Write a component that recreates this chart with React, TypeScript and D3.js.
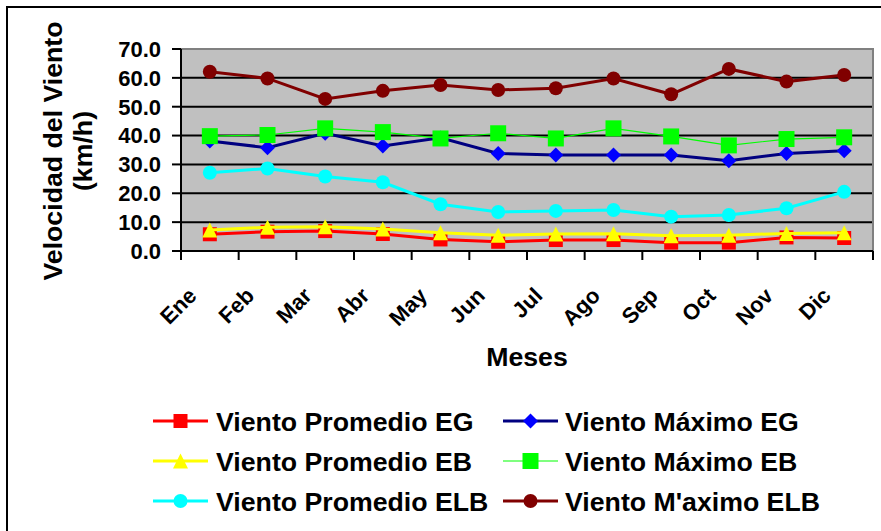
import React from "react";
import * as d3 from "d3";

const months = ["Ene", "Feb", "Mar", "Abr", "May", "Jun", "Jul", "Ago", "Sep", "Oct", "Nov", "Dic"];
const yTicks = [0, 10, 20, 30, 40, 50, 60, 70];

const promedioEG = [5.8, 6.7, 6.9, 5.9, 4.0, 3.2, 3.8, 3.8, 2.9, 2.9, 4.7, 4.5];
const maximoEG = [38.1, 35.8, 40.8, 36.4, 39.2, 33.8, 33.3, 33.3, 33.3, 31.3, 33.8, 34.7];
const promedioEB = [7.3, 8.2, 8.4, 7.6, 6.3, 5.5, 5.9, 6.0, 5.3, 5.5, 6.1, 6.3];
const maximoEB = [39.8, 40.2, 42.5, 41.2, 39.0, 40.8, 39.0, 42.5, 39.7, 36.6, 38.8, 39.4];
const promedioELB = [27.1, 28.6, 25.8, 23.8, 16.2, 13.5, 13.9, 14.2, 11.9, 12.5, 14.8, 20.5];
const maximoELB = [62.1, 59.8, 52.7, 55.5, 57.5, 55.8, 56.4, 59.8, 54.3, 63.1, 58.7, 61.0];

type Marker = "square" | "diamond" | "triangle" | "circle";
interface Series {
  name: string;
  values: number[];
  line: string;
  fill: string;
  width: number;
  marker: Marker;
  size: number;
}

const series: Series[] = [
  { name: "Viento Promedio EG", values: promedioEG, line: "#FF0000", fill: "#FF0000", width: 3, marker: "square", size: 14 },
  { name: "Viento Máximo EG", values: maximoEG, line: "#000080", fill: "#0000FF", width: 3, marker: "diamond", size: 15 },
  { name: "Viento Promedio EB", values: promedioEB, line: "#FFFF00", fill: "#FFFF00", width: 3, marker: "triangle", size: 15 },
  { name: "Viento Máximo EB", values: maximoEB, line: "#00FF00", fill: "#00FF00", width: 1.2, marker: "square", size: 16 },
  { name: "Viento Promedio ELB", values: promedioELB, line: "#00FFFF", fill: "#00FFFF", width: 3, marker: "circle", size: 14 },
  { name: "Viento M'aximo ELB", values: maximoELB, line: "#800000", fill: "#800000", width: 3, marker: "circle", size: 14 },
];

const W = 881;
const H = 531;
const plot = { left: 181, right: 873, top: 49, bottom: 251 };
const FONT = "'Liberation Sans', Arial, Helvetica, sans-serif";
const TITLE_SIZE = 26.7;

function markerPath(m: Marker, size: number): string {
  const h = size / 2;
  switch (m) {
    case "square":
      return `M${-h},${-h}H${h}V${h}H${-h}Z`;
    case "diamond":
      return `M0,${-h}L${h},0L0,${h}L${-h},0Z`;
    case "triangle":
      return `M0,${-h}L${h},${h}L${-h},${h}Z`;
    case "circle":
    default:
      return `M${-h},0A${h},${h} 0 1,0 ${h},0A${h},${h} 0 1,0 ${-h},0Z`;
  }
}

export default function App() {
  const x = d3.scaleBand<string>().domain(months).range([plot.left, plot.right]).padding(0);
  const y = d3.scaleLinear().domain([0, 70]).range([plot.bottom, plot.top]);
  const cx = (m: string) => (x(m) as number) + x.bandwidth() / 2;

  const lineGen = d3
    .line<number>()
    .x((_, i) => cx(months[i]))
    .y((v) => y(v));

  const boundaries = months.map((m) => x(m) as number).concat([plot.right]);

  const legendRows = [421, 461, 501];
  const legendCols = [
    { lineFrom: 153, lineTo: 208, text: 216 },
    { lineFrom: 503, lineTo: 558, text: 565 },
  ];

  return (
    <svg width={W} height={H} style={{ position: "absolute", left: 0, top: 0, background: "#fff" }}>
      {/* outer chart frame */}
      <rect x={7} y={7} width={W} height={H} fill="#fff" stroke="#000" strokeWidth={2} />

      {/* plot background */}
      <rect x={plot.left} y={plot.top} width={plot.right - plot.left} height={plot.bottom - plot.top} fill="#C0C0C0" />

      {/* horizontal gridlines */}
      {yTicks.slice(1, -1).map((t) => (
        <line key={t} x1={plot.left} x2={plot.right} y1={y(t)} y2={y(t)} stroke="#000" strokeWidth={2} />
      ))}

      {/* plot border (top & right) */}
      <path
        d={`M${plot.left},${plot.top}H${plot.right}V${plot.bottom}`}
        fill="none"
        stroke="#808080"
        strokeWidth={2}
      />

      {/* axes */}
      <line x1={plot.left} x2={plot.left} y1={plot.top} y2={plot.bottom} stroke="#000" strokeWidth={2} />
      <line x1={plot.left} x2={plot.right} y1={plot.bottom} y2={plot.bottom} stroke="#000" strokeWidth={2} />

      {/* y ticks and labels */}
      {yTicks.map((t) => (
        <g key={t}>
          <line x1={plot.left - 9} x2={plot.left} y1={y(t)} y2={y(t)} stroke="#000" strokeWidth={2} />
          <text
            x={161}
            y={y(t)}
            dy="0.36em"
            textAnchor="end"
            fontFamily={FONT}
            fontWeight="bold"
            fontSize={22}
            fill="#000"
          >
            {t.toFixed(1)}
          </text>
        </g>
      ))}

      {/* x ticks */}
      {boundaries.map((b, i) => (
        <line key={i} x1={b} x2={b} y1={plot.bottom} y2={plot.bottom + 9} stroke="#000" strokeWidth={2} />
      ))}

      {/* x labels */}
      {months.map((m) => (
        <text
          key={m}
          transform={`translate(${cx(m) - 12},${297}) rotate(-45)`}
          textAnchor="end"
          fontFamily={FONT}
          fontWeight="bold"
          fontSize={22}
          fill="#000"
        >
          {m}
        </text>
      ))}

      {/* series */}
      {series.map((s) => (
        <g key={s.name}>
          <path d={lineGen(s.values) || ""} fill="none" stroke={s.line} strokeWidth={s.width} />
          {s.values.map((v, i) => (
            <path
              key={i}
              d={markerPath(s.marker, s.size)}
              transform={`translate(${cx(months[i])},${y(v)})`}
              fill={s.fill}
            />
          ))}
        </g>
      ))}

      {/* axis titles */}
      <text
        x={(plot.left + plot.right) / 2}
        y={366}
        textAnchor="middle"
        fontFamily={FONT}
        fontWeight="bold"
        fontSize={TITLE_SIZE}
        fill="#000"
      >
        Meses
      </text>
      <g transform="translate(0,151) rotate(-90)">
        <text x={0} y={62} textAnchor="middle" fontFamily={FONT} fontWeight="bold" fontSize={TITLE_SIZE} fill="#000">
          Velocidad del Viento
        </text>
        <text x={0} y={91.5} textAnchor="middle" fontFamily={FONT} fontWeight="bold" fontSize={TITLE_SIZE} fill="#000">
          (km/h)
        </text>
      </g>

      {/* legend */}
      {series.map((s, i) => {
        const col = legendCols[i % 2];
        const rowY = legendRows[Math.floor(i / 2)];
        const mid = (col.lineFrom + col.lineTo) / 2;
        return (
          <g key={s.name}>
            <line x1={col.lineFrom} x2={col.lineTo} y1={rowY} y2={rowY} stroke={s.line} strokeWidth={s.width} />
            <path d={markerPath(s.marker, s.size)} transform={`translate(${mid},${rowY})`} fill={s.fill} />
            <text
              x={col.text}
              y={rowY + 9.5}
              fontFamily={FONT}
              fontWeight="bold"
              fontSize={TITLE_SIZE}
              fill="#000"
            >
              {s.name}
            </text>
          </g>
        );
      })}
    </svg>
  );
}
